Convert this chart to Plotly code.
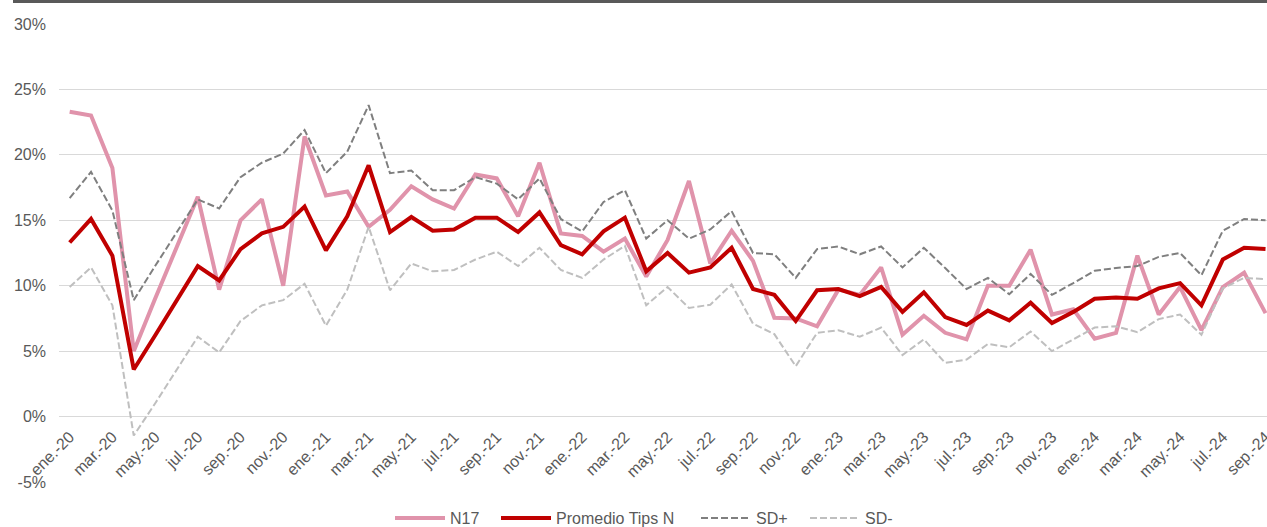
import plotly.graph_objects as go

months = []
_mn = ["ene.", "feb.", "mar.", "abr.", "may.", "jun.", "jul.", "ago.", "sep.", "oct.", "nov.", "dic."]
for yr in range(20, 25):
    for m in _mn:
        months.append(f"{m}-{yr}")
months = months[:57]  # ene.-20 .. sep.-24

n17 = [23.3, 23.0, 19.0, 5.0, 9.0, 12.9, 16.8, 9.7, 15.0, 16.6, 10.0, 21.4,
       16.9, 17.2, 14.5, 15.8, 17.6, 16.6, 15.9, 18.5, 18.2, 15.3, 19.4, 14.0,
       13.8, 12.6, 13.6, 10.7, 13.5, 18.0, 11.7, 14.2, 11.9, 7.55, 7.5, 6.9,
       9.7, 9.3, 11.4, 6.26, 7.7, 6.4, 5.9, 10.0, 10.0, 12.75, 7.8, 8.2,
       5.95, 6.4, 12.3, 7.8, 9.9, 6.6, 9.9, 11.0, 7.9]

promedio = [13.3, 15.1, 12.3, 3.6, 6.2, 8.8, 11.5, 10.4, 12.8, 14.0, 14.5, 16.05,
            12.7, 15.3, 19.2, 14.1, 15.25, 14.2, 14.3, 15.2, 15.2, 14.1, 15.6, 13.1,
            12.4, 14.15, 15.2, 11.1, 12.5, 11.0, 11.4, 12.9, 9.75, 9.3, 7.3, 9.65,
            9.75, 9.2, 9.9, 8.0, 9.5, 7.6, 7.0, 8.1, 7.35, 8.7, 7.15, 8.0,
            9.0, 9.1, 9.0, 9.8, 10.2, 8.5, 12.0, 12.9, 12.8]

sd_plus = [16.7, 18.7, 15.75, 8.9, 11.5, 14.1, 16.6, 15.9, 18.3, 19.4, 20.1, 21.9,
           18.6, 20.25, 23.8, 18.6, 18.8, 17.3, 17.3, 18.3, 17.8, 16.6, 18.2, 15.1,
           14.15, 16.4, 17.3, 13.6, 15.0, 13.6, 14.3, 15.7, 12.5, 12.4, 10.6, 12.8,
           13.0, 12.4, 13.0, 11.4, 12.9, 11.35, 9.75, 10.6, 9.35, 10.9, 9.3, 10.2,
           11.15, 11.35, 11.5, 12.2, 12.5, 10.8, 14.2, 15.1, 15.0]

sd_minus = [9.9, 11.4, 8.5, -1.45, 1.0, 3.6, 6.1, 4.9, 7.3, 8.5, 8.9, 10.15,
            6.95, 9.7, 14.5, 9.65, 11.7, 11.1, 11.2, 12.0, 12.6, 11.5, 12.9, 11.2,
            10.6, 12.0, 13.05, 8.5, 9.9, 8.3, 8.55, 10.1, 7.1, 6.3, 3.85, 6.4,
            6.6, 6.1, 6.8, 4.7, 5.9, 4.1, 4.35, 5.55, 5.3, 6.5, 5.0, 5.9,
            6.8, 6.9, 6.45, 7.45, 7.8, 6.25, 9.8, 10.6, 10.5]

y_ticks = [-5, 0, 5, 10, 15, 20, 25, 30]
y_ticktext = [f"{v}%" for v in y_ticks]

PINK = "#E093AB"
RED = "#C00000"
GRAY = "#7F7F7F"
LGRAY = "#BFBFBF"
TXT = "#595959"
FONT = "Liberation Sans, Arial, sans-serif"

W, H = 1267, 527
ml, mr, mt, mb = 59, 0, 24, 45
plot_w = W - ml - mr
plot_h = H - mt - mb

series = [
    ("N17", n17, dict(color=PINK, width=4), "legend", 397),
    ("Promedio Tips N", promedio, dict(color=RED, width=4), "legend2", 503),
    ("SD+", sd_plus, dict(color=GRAY, width=2, dash="7px,3px"), "legend3", 703),
    ("SD-", sd_minus, dict(color=LGRAY, width=2, dash="7px,3px"), "legend4", 812),
]

fig = go.Figure()
legend_cfg = {}
for name, vals, line, lg, sx in series:
    fig.add_trace(go.Scatter(x=months, y=vals, mode="lines", name=name,
                             line=line, legend=lg))
    legend_cfg[lg] = dict(orientation="h", x=(sx - 7 - ml) / plot_w, xanchor="left",
                          y=-(518 - (H - mb)) / plot_h, yanchor="middle",
                          font=dict(size=16, color=TXT), itemwidth=50,
                          bgcolor="rgba(0,0,0,0)")

fig.update_layout(
    width=W, height=H,
    margin=dict(l=ml, r=mr, t=mt, b=mb, autoexpand=False),
    paper_bgcolor="white", plot_bgcolor="white",
    font=dict(family=FONT, size=16, color=TXT),
    showlegend=True,
    **legend_cfg,
    xaxis=dict(type="category", range=[-0.5, 56.07], automargin=False,
               tickmode="array", tickvals=months[::2], ticktext=months[::2],
               tickangle=-45, showgrid=False, ticks="", ticklabelstandoff=7,
               showline=False, anchor="free", position=5 / 35,
               tickfont=dict(size=16, color=TXT)),
    yaxis=dict(range=[-5, 30], tickvals=y_ticks, ticktext=y_ticktext,
               automargin=False,
               showgrid=True, gridcolor="#D9D9D9", gridwidth=1,
               zeroline=True, zerolinecolor="#D9D9D9", zerolinewidth=1,
               ticks="", ticklabelstandoff=12, domain=[0, 1],
               tickfont=dict(size=16, color=TXT)),
)

fig.add_shape(type="rect", xref="paper", yref="paper",
              x0=(13 - ml) / plot_w, x1=1.0,
              y0=1 + (mt - 3) / plot_h, y1=1 + mt / plot_h,
              fillcolor="#595959", line=dict(width=0), layer="above")

fig.write_html("out.html", config={"displayModeBar": False},
               post_script="document.body.style.margin='0';document.body.style.overflow='hidden';")
